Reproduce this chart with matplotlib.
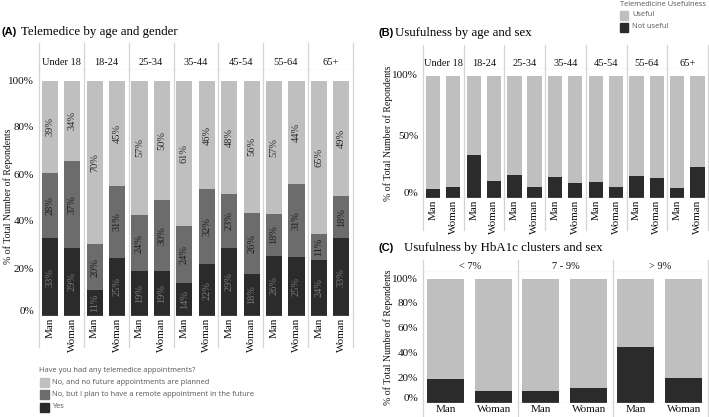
import numpy as np
import matplotlib
matplotlib.use("Agg")
import matplotlib.pyplot as plt
from matplotlib.patches import Rectangle

# ---- data ----
age_groups = ["Under 18", "18-24", "25-34", "35-44", "45-54", "55-64", "65+"]
sexes = ["Man", "Woman"]

# panel A, % per bar (Man, Woman for each age group)
tele_yes = [33, 29, 11, 25, 19, 19, 14, 22, 29, 18, 26, 25, 24, 33]
tele_plan = [28, 37, 20, 31, 24, 30, 24, 32, 23, 26, 18, 31, 11, 18]
tele_none = [39, 34, 70, 45, 57, 50, 61, 46, 48, 56, 57, 44, 65, 49]
tele_legend = ["No, and no future appointments are planned",
               "No, but I plan to have a remote appointment in the future",
               "Yes"]

# panel B, share "Not useful" per bar
age_not_useful = [7, 9, 35, 14, 19, 9, 17, 12, 13, 9, 18, 16, 8, 25]

# panel C
hba1c_groups = ["< 7%", "7 - 9%", "> 9%"]
hba1c_not_useful = [19, 10, 10, 12, 45, 20]

C_LIGHT = "#bfbfbf"
C_MID = "#6c6c6c"
C_DARK = "#2b2b2b"
C_LINE = "#d4d4d4"
SERIF = "Liberation Serif"
SANS = "Open Sans"

W, H = 709, 417
fig = plt.figure(figsize=(W / 100, H / 100), dpi=100)


def px_axes(x0, y0, x1, y1):
    ax = fig.add_axes([x0 / W, 1 - y1 / H, (x1 - x0) / W, (y1 - y0) / H])
    return ax


def clean(ax):
    for s in ax.spines.values():
        s.set_visible(False)
    ax.set_xticks([])
    ax.set_yticks([])
    ax.patch.set_alpha(0)


def panel(x0, x1, y_head, y_line, y_top, y_base, y_bot, groups, offsets,
          ticks, xlab_rot, head_y):
    n = len(groups)
    # header
    hx = px_axes(x0, y_head, x1, y_line)
    clean(hx)
    hx.set_xlim(0, n)
    hx.set_ylim(1, 0)
    for i, g in enumerate(groups):
        hx.text(i + 0.5, head_y, g, ha="center", va="center", family=SERIF,
                fontsize=7.5, color="#111111")
    # main
    ax = px_axes(x0, y_line, x1, y_base)
    clean(ax)
    ax.set_xlim(0, n)
    ax.set_ylim(0, 100 * (y_base - y_line) / (y_base - y_top))
    # x label strip
    lx = px_axes(x0, y_base, x1, y_bot)
    clean(lx)
    lx.set_xlim(0, n)
    lx.set_ylim(1, 0)
    for i in range(n):
        for j, s in enumerate(sexes):
            if xlab_rot:
                lx.text(i + offsets[j], 0.06, s, rotation=90, ha="center",
                        va="top", family=SERIF, fontsize=8, color="#111111")
            else:
                lx.text(i + offsets[j], 0.5, s, ha="center", va="center",
                        family=SERIF, fontsize=8, color="#111111")
    # grid lines
    for a in (hx, ax, lx):
        for b in range(n + 1):
            a.axvline(b, color=C_LINE, lw=0.9, clip_on=False)
    hx.axhline(1, color=C_LINE, lw=0.9)
    ax.axhline(0, color=C_LINE, lw=0.9)
    for t in ticks:
        ax.annotate(f"{t}%", xy=(0, t), xycoords=("axes fraction", "data"),
                    xytext=(-3.5, 3 if t == 0 else 0), textcoords="offset points",
                    ha="right", va="center", family=SERIF, fontsize=8,
                    color="#111111", annotation_clip=False)
    xs = [i + offsets[j] for i in range(n) for j in range(2)]
    return ax, xs


def title(xl, xt, y, tag, text):
    fig.text(xl / W, 1 - y / H, tag, family="Liberation Sans", fontweight="bold",
             fontsize=8, va="center", ha="left")
    fig.text(xt / W, 1 - y / H, text, family=SERIF, fontsize=9.3,
             va="center", ha="left")


def ylabel(x, y):
    fig.text(x / W, 1 - y / H, "% of Total Number of Repondents", rotation=90,
             ha="center", va="center", family=SERIF, fontsize=7, color="#111111")


# ---- panel A ----
axA, xsA = panel(39, 353, 43, 70, 81, 316, 347, age_groups, (0.24, 0.74),
                 [0, 20, 40, 60, 80, 100], True, 0.72)
yes = np.array(tele_yes, float)
plan = np.array(tele_plan, float)
none_ = np.array(tele_none, float)
tot = yes + plan + none_
for vals, bottom, col, tcol in [
        (yes, np.zeros_like(yes), C_DARK, "#7a7a7a"),
        (plan, yes, C_MID, "#1e1e1e"),
        (none_, yes + plan, C_LIGHT, "#2a2a2a")]:
    h = vals / tot * 100
    b = bottom / tot * 100
    axA.bar(xsA, h, bottom=b, width=0.36, color=col, linewidth=0)
    for x, hh, bb, v in zip(xsA, h, b, vals):
        axA.text(x, bb + hh / 2, f"{int(v)}%", rotation=90, ha="center",
                 va="center", family=SERIF, fontsize=7.5, color=tcol)
ylabel(8, 196)
title(2, 21, 32, "(A)", "Telemedice by age and gender")

# legend A
fig.text(39 / W, 1 - 371 / H, "Have you had any telemedice appointments?",
         family=SANS, fontsize=5.4, color="#555555", va="center")
for k, (lab, col) in enumerate(zip(tele_legend, [C_LIGHT, C_MID, C_DARK])):
    yc = 382 + k * 12.5
    fig.patches.append(Rectangle((40 / W, 1 - (yc + 4.5) / H), 9 / W, 9 / H,
                                 transform=fig.transFigure, color=col))
    fig.text(52 / W, 1 - yc / H, lab, family=SANS, fontsize=5.4,
             color="#555555", va="center")

# ---- panel B ----
axB, xsB = panel(423, 708, 45, 69, 76, 198, 230, age_groups, (0.245, 0.74),
                 [0, 50, 100], True, 0.75)
nu = np.array(age_not_useful, float)
axB.bar(xsB, nu, width=0.35, color=C_DARK, linewidth=0)
axB.bar(xsB, 100 - nu, bottom=nu, width=0.35, color=C_LIGHT, linewidth=0)
ylabel(388, 133)
title(379, 395, 33, "(B)", "Usufulness by age and sex")
fig.text(620 / W, 1 - 4 / H, "Telemedicine Usefulness", family=SANS,
         fontsize=5.4, color="#555555", va="center")
for k, (lab, col) in enumerate(zip(["Useful", "Not useful"], [C_LIGHT, C_DARK])):
    yc = 15 + k * 12
    fig.patches.append(Rectangle((620 / W, 1 - (yc + 4.5) / H), 8 / W, 9 / H,
                                 transform=fig.transFigure, color=col))
    fig.text(632 / W, 1 - yc / H, lab, family=SANS, fontsize=5.4,
             color="#555555", va="center")

# ---- panel C ----
axC, xsC = panel(423, 708, 260, 272, 279, 403, 417, hba1c_groups, (0.237, 0.747),
                 [0, 20, 40, 60, 80, 100], False, 0.55)
hn = np.array(hba1c_not_useful, float)
axC.bar(xsC, hn, width=0.39, color=C_DARK, linewidth=0)
axC.bar(xsC, 100 - hn, bottom=hn, width=0.39, color=C_LIGHT, linewidth=0)
ylabel(388, 337)
title(379, 404, 248, "(C)", "Usufulness by HbA1c clusters and sex")

fig.savefig("out.png", dpi=100)
